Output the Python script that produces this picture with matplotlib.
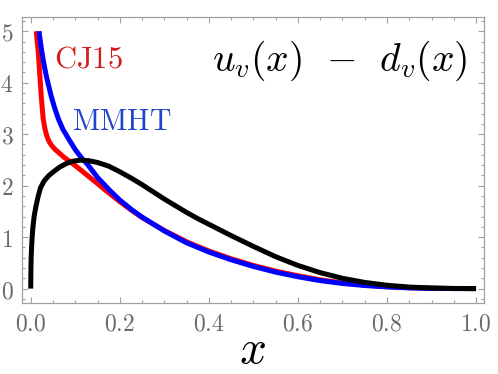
import matplotlib
matplotlib.use("Agg")
import matplotlib.pyplot as plt
from matplotlib.ticker import MultipleLocator, FuncFormatter

plt.rcParams['mathtext.fontset'] = 'cm'

# ---- data ----
model_x = [0.0, 0.0005, 0.001, 0.002, 0.003, 0.005, 0.008, 0.012, 0.017, 0.022, 0.03, 0.04,
           0.051, 0.065, 0.08, 0.095, 0.111, 0.13, 0.15, 0.175, 0.2, 0.225, 0.25, 0.275, 0.3,
           0.325, 0.35, 0.375, 0.4, 0.425, 0.45, 0.5, 0.55, 0.6, 0.65, 0.7, 0.75, 0.8, 0.85,
           0.9, 0.95, 1.0]
model_y = [0, 0.4, 0.6, 0.8, 0.97, 1.2, 1.42, 1.61, 1.8, 1.96, 2.09, 2.19, 2.27, 2.36, 2.43,
           2.475, 2.495, 2.485, 2.45, 2.38, 2.27, 2.15, 2.02, 1.88, 1.74, 1.61, 1.48, 1.36,
           1.25, 1.14, 1.03, 0.82, 0.62, 0.45, 0.31, 0.20, 0.12, 0.065, 0.03, 0.012, 0.003, 0]

mmht_x = [0.0186, 0.022, 0.025, 0.03, 0.035, 0.040, 0.046, 0.053, 0.062, 0.072, 0.085, 0.1,
          0.115, 0.126, 0.15, 0.175, 0.2, 0.225, 0.25, 0.3, 0.35, 0.4, 0.45, 0.5, 0.55, 0.6,
          0.65, 0.7, 0.75, 0.8, 0.85, 0.9, 0.95, 1.0]
mmht_y = [5.0, 4.78, 4.6, 4.35, 4.13, 3.95, 3.74, 3.53, 3.30, 3.10, 2.91, 2.70, 2.53, 2.43,
          2.16, 1.93, 1.72, 1.545, 1.39, 1.12, 0.89, 0.71, 0.56, 0.43, 0.32, 0.23, 0.155,
          0.10, 0.06, 0.032, 0.014, 0.005, 0.001, 0]

cj15_x = [0.0125, 0.014, 0.017, 0.020, 0.024, 0.028, 0.032, 0.036, 0.041, 0.047, 0.054, 0.062,
          0.075, 0.088, 0.1, 0.12, 0.15, 0.175, 0.2, 0.225, 0.25, 0.3, 0.35, 0.4, 0.45, 0.5,
          0.55, 0.6, 0.65, 0.7, 0.75, 0.8, 0.85, 0.9, 0.95, 1.0]
cj15_y = [5.0, 4.85, 4.6, 4.2, 3.7, 3.30, 3.10, 2.97, 2.86, 2.78, 2.71, 2.65, 2.55, 2.47, 2.39,
          2.25, 2.04, 1.86, 1.69, 1.53, 1.38, 1.13, 0.91, 0.73, 0.58, 0.45, 0.34, 0.25, 0.17,
          0.11, 0.068, 0.037, 0.017, 0.006, 0.0012, 0]

x_ticks = [0.0, 0.2, 0.4, 0.6, 0.8, 1.0]
y_ticks = [0, 1, 2, 3, 4, 5]

# ---- figure ----
fig = plt.figure(figsize=(4.98, 3.74), dpi=100)
ax = fig.add_axes([0.0436, 0.1898, 0.9284, 0.7639])

lw = 3.6
ax.plot(cj15_x, cj15_y, color='#ff0000', lw=lw, solid_capstyle='butt', zorder=2)
ax.plot(mmht_x, mmht_y, color='#0000ff', lw=lw, solid_capstyle='butt', zorder=3)
ax.plot(model_x, model_y, color='black', lw=lw, solid_capstyle='butt', zorder=4)

ax.set_xlim(-0.0202, 1.018)
ax.set_ylim(-0.28, 5.27)

ax.set_xticks(x_ticks)
ax.set_yticks(y_ticks)
ax.xaxis.set_minor_locator(MultipleLocator(0.05))
ax.yaxis.set_minor_locator(MultipleLocator(0.2))
ax.xaxis.set_major_formatter(FuncFormatter(lambda v, p: r'$%.1f$' % v))
ax.yaxis.set_major_formatter(FuncFormatter(lambda v, p: r'$%d$' % round(v)))

gray = '#a0a0a0'
ax.tick_params(which='both', direction='in', top=True, right=True, color=gray, width=0.8)
ax.tick_params(which='major', length=4.5, labelsize=17, labelcolor='#6a6a6a', pad=6)
ax.tick_params(which='minor', length=2.5)
for s in ax.spines.values():
    s.set_color(gray)
    s.set_linewidth(0.9)

ax.set_xlabel(r'$x$', fontsize=34, labelpad=-5)

ax.text(0.052, 4.29, r'$\mathrm{CJ15}$', color='#d41c1c', fontsize=22, va='baseline', ha='left')
ax.text(0.093, 3.08, r'$\mathrm{MMHT}$', color='#2244cc', fontsize=21.5, va='baseline', ha='left')
ax.text(0.98, 4.24, r'$u_v(x)\;\,-\;\,d_v(x)$', color='black', fontsize=28.5,
        va='baseline', ha='right')

fig.savefig('out.png', dpi=100)
